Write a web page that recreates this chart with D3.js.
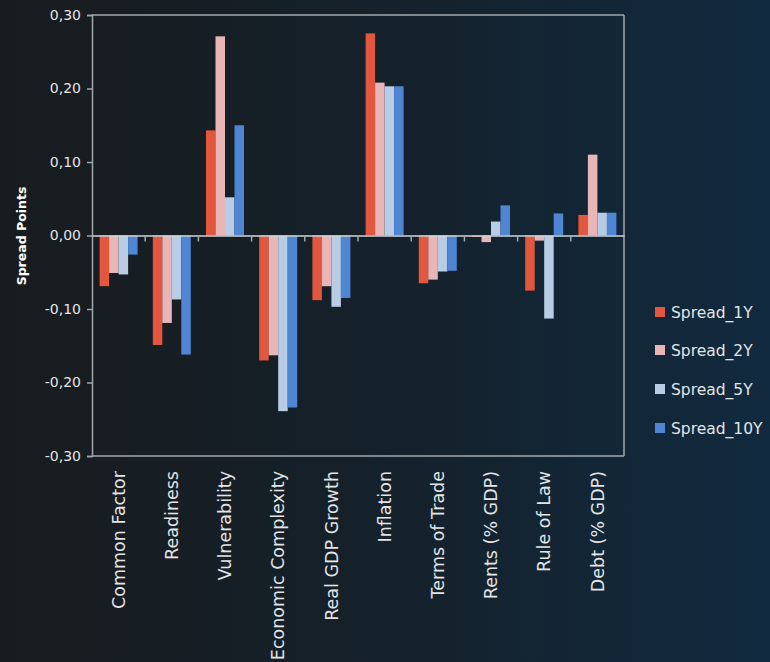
<!DOCTYPE html>
<html>
<head>
<meta charset="utf-8">
<script src="https://cdn.jsdelivr.net/npm/d3@7"></script>
<style>
html,body{margin:0;padding:0;background:#15202a;}
svg{display:block;}
text{font-family:"DejaVu Sans",sans-serif;}
</style>
</head>
<body>
<svg id="chart" width="770" height="662"></svg>
<script>
const categories = ["Common Factor","Readiness","Vulnerability","Economic Complexity","Real GDP Growth","Inflation","Terms of Trade","Rents (% GDP)","Rule of Law","Debt (% GDP)"];
const seriesNames = ["Spread_1Y","Spread_2Y","Spread_5Y","Spread_10Y"];
const spread1Y  = [-0.069,-0.149, 0.143,-0.170,-0.088, 0.275,-0.065,-0.002,-0.075, 0.028];
const spread2Y  = [-0.051,-0.119, 0.271,-0.163,-0.069, 0.208,-0.060,-0.009,-0.007, 0.110];
const spread5Y  = [-0.053,-0.087, 0.052,-0.239,-0.097, 0.203,-0.049, 0.019,-0.113, 0.031];
const spread10Y = [-0.026,-0.162, 0.150,-0.234,-0.085, 0.203,-0.048, 0.041, 0.030, 0.031];
const seriesColors = ["#e2573e","#e8b6b6","#b8cce6","#4f86d4"];
const yTicks = [0.30,0.20,0.10,0.00,-0.10,-0.20,-0.30];

const allSeries = [spread1Y, spread2Y, spread5Y, spread10Y];
const svg = d3.select("#chart");

// background gradient
const defs = svg.append("defs");
const grad = defs.append("linearGradient").attr("id","bg").attr("x1","0").attr("x2","1").attr("y1","0").attr("y2","0");
grad.append("stop").attr("offset","0%").attr("stop-color","#181c1f");
grad.append("stop").attr("offset","45%").attr("stop-color","#152029");
grad.append("stop").attr("offset","100%").attr("stop-color","#112a3f");
svg.append("rect").attr("width",770).attr("height",662).attr("fill","url(#bg)");

const L = 92, R = 624, T = 15, B = 456;
const x0 = d3.scaleBand().domain(categories).range([L,R]).padding(0);
const x1 = d3.scaleBand().domain(seriesNames).range([0,x0.bandwidth()]).paddingInner(0).paddingOuter(0.8);
const y = d3.scaleLinear().domain([-0.30,0.30]).range([B,T]);

const axisColor = "#a3a8ad";
const textColor = "#e2e4e6";

// bars
const groups = svg.append("g").selectAll("g").data(categories).join("g")
  .attr("transform", d => `translate(${x0(d)},0)`);
groups.selectAll("rect")
  .data((c,i) => seriesNames.map((s,k) => ({s, v: allSeries[k][i], k})))
  .join("rect")
  .attr("x", d => x1(d.s))
  .attr("width", x1.bandwidth())
  .attr("y", d => y(Math.max(0,d.v)))
  .attr("height", d => Math.abs(y(d.v) - y(0)))
  .attr("fill", d => seriesColors[d.k]);

// frame
svg.append("line").attr("x1",L).attr("x2",R).attr("y1",T).attr("y2",T).attr("stroke",axisColor).attr("stroke-width",1.5);
svg.append("line").attr("x1",R).attr("x2",R).attr("y1",T).attr("y2",B).attr("stroke",axisColor).attr("stroke-width",1.5);
svg.append("line").attr("x1",L).attr("x2",R).attr("y1",B).attr("y2",B).attr("stroke",axisColor).attr("stroke-width",1.5);

// y axis
const yAxis = svg.append("g").attr("transform",`translate(${L},0)`)
  .call(d3.axisLeft(y).tickValues(yTicks).tickSize(5).tickPadding(6)
    .tickFormat(d => d3.format(".2f")(d).replace(".",",").replace("−","-")));
yAxis.select(".domain").attr("stroke",axisColor).attr("stroke-width",1.5);
yAxis.selectAll(".tick line").attr("stroke",axisColor).attr("stroke-width",1.5);
yAxis.selectAll(".tick text").attr("fill",textColor).attr("font-size","14px").attr("font-family","DejaVu Sans");

// zero axis with category boundary ticks
const xAxis = svg.append("g").attr("transform",`translate(0,${y(0)})`)
  .call(d3.axisBottom(x0).tickSize(0).tickFormat(""));
xAxis.select(".domain").attr("stroke","#d0d4d8").attr("stroke-width",1.5);
svg.append("g").selectAll("line").data(categories.slice(1)).join("line")
  .attr("x1", d => x0(d)).attr("x2", d => x0(d))
  .attr("y1", y(0)).attr("y2", y(0)+6)
  .attr("stroke",axisColor).attr("stroke-width",1.5);

// x labels
svg.append("g").selectAll("text").data(categories).join("text")
  .attr("transform", d => `translate(${x0(d)+x0.bandwidth()/2},471) rotate(-90)`)
  .attr("text-anchor","end").attr("dy","0.35em")
  .attr("fill",textColor).attr("font-size","17.5px")
  .text(d => d);

// y label
svg.append("text").attr("transform","translate(22,236) rotate(-90)")
  .attr("text-anchor","middle").attr("dy","0.35em")
  .attr("fill","#ffffff").attr("font-weight","bold").attr("font-size","12.5px")
  .text("Spread Points");

// legend
const legendRows = [312,350,389,428];
const lg = svg.append("g").selectAll("g").data(seriesNames).join("g")
  .attr("transform",(d,i) => `translate(655,${legendRows[i]})`);
lg.append("rect").attr("x",0).attr("y",-5).attr("width",10).attr("height",10).attr("fill",(d,i)=>seriesColors[i]);
lg.append("text").attr("x",16).attr("dy","0.36em").attr("fill",textColor).attr("font-size","15.5px").text(d=>d);
</script>
</body>
</html>
